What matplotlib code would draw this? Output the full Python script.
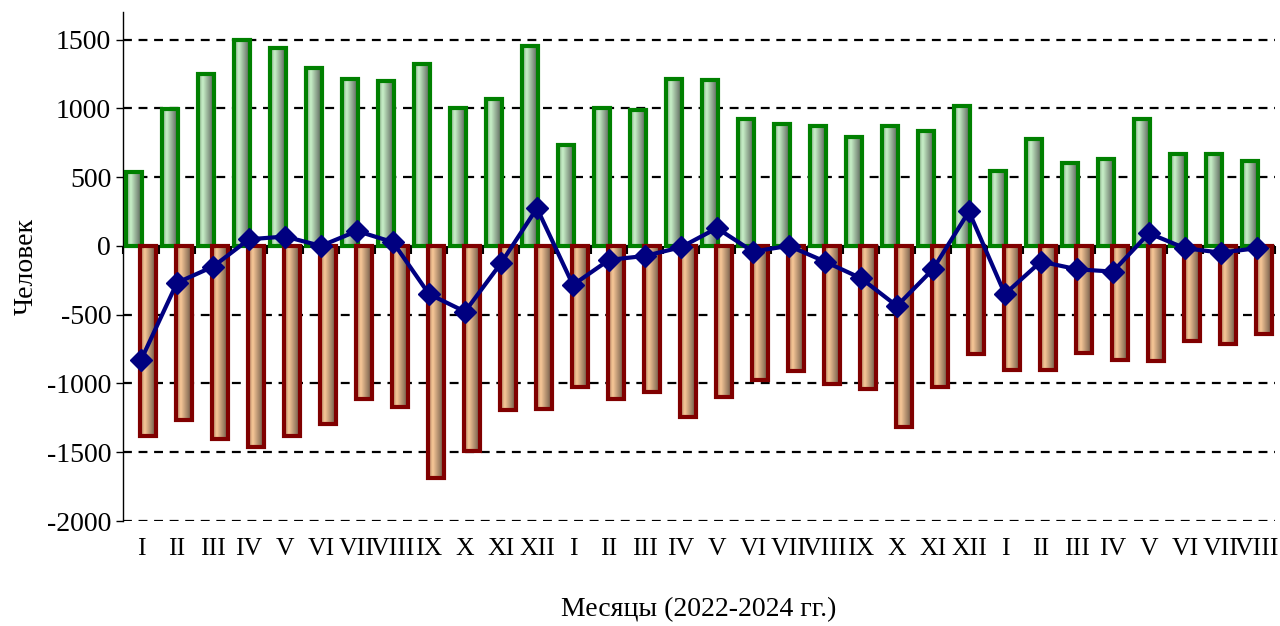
import numpy as np
import matplotlib.pyplot as plt
from matplotlib.colors import LinearSegmentedColormap

plt.rcParams['font.family'] = ['Liberation Serif', 'DejaVu Serif']
plt.rcParams['axes.unicode_minus'] = False

# Data
months = ['I', 'II', 'III', 'IV', 'V', 'VI', 'VII', 'VIII', 'IX', 'X', 'XI', 'XII',
          'I', 'II', 'III', 'IV', 'V', 'VI', 'VII', 'VIII', 'IX', 'X', 'XI', 'XII',
          'I', 'II', 'III', 'IV', 'V', 'VI', 'VII', 'VIII']
arrived = [540, 995, 1250, 1500, 1440, 1290, 1210, 1198, 1325, 1003, 1065, 1450,
           730, 1003, 990, 1215, 1208, 920, 889, 870, 792, 874, 838, 1020,
           542, 778, 602, 628, 920, 668, 668, 614]
departed = [-1385, -1265, -1405, -1465, -1380, -1298, -1110, -1173, -1688, -1490, -1193, -1185,
            -1028, -1115, -1060, -1245, -1095, -975, -908, -1003, -1040,
            -1320, -1027, -785, -900, -900, -780, -830, -835, -695, -715, -640]
net = [-830, -268, -151, 48, 68, 0, 108, 27, -350, -478, -126, 274,
       -284, -102, -73, -10, 129, -41, 0, -114, -235, -437, -170, 250,
       -350, -114, -170, -187, 92, -17, -49, -17]

x = np.arange(len(months))

fig = plt.figure(figsize=(12.8, 6.26), dpi=100)
ax = fig.add_axes([0.0961, 0.1677, 0.8999, 0.8131])

green_cm = LinearSegmentedColormap.from_list('g', [(0, '#88a888'), (0.3, '#c8f0c8'), (1, '#585e58')])
red_cm = LinearSegmentedColormap.from_list('r', [(0, '#a87a5c'), (0.3, '#f8c898'), (1, '#685444')])
grad = np.linspace(0, 1, 64).reshape(1, -1)

w = 0.44
b1 = ax.bar(x - 0.2, arrived, w, facecolor='none', edgecolor='#008000', linewidth=3, zorder=3)
b2 = ax.bar(x + 0.2, departed, w, facecolor='none', edgecolor='#800000', linewidth=3, zorder=3)

for bars, cm in ((b1, green_cm), (b2, red_cm)):
    for r in bars:
        x0, y0 = r.get_x(), r.get_y()
        x1, y1 = x0 + r.get_width(), y0 + r.get_height()
        im = ax.imshow(grad, cmap=cm, extent=[x0, x1, min(y0, y1), max(y0, y1)],
                       aspect='auto', zorder=2.5, interpolation='bilinear')
        im.set_clip_path(r)

ax.plot(x, net, color='#000080', linewidth=3, marker='D', markersize=11, zorder=5)

ax.set_xlim(-0.5, len(months) - 0.5)
ax.set_ylim(-2000, 1700)
ax.set_yticks(np.arange(-2000, 1501, 500))
ax.tick_params(axis='y', labelsize=20, length=5, direction='out', width=1)
ax.grid(axis='y', linestyle=(0, (4, 3)), color='black', linewidth=1.6, zorder=1)

# horizontal axis crosses at zero, labels stay at the bottom
ax.spines['bottom'].set_position(('data', 0))
ax.spines['bottom'].set_visible(False)
ax.spines['top'].set_visible(False)
ax.spines['right'].set_visible(False)
ax.spines['left'].set_linewidth(1)
ax.set_xticks(np.arange(-0.5, len(months), 1))
ax.tick_params(axis='x', length=6, width=1.5, direction='out', labelbottom=False)

sec = ax.secondary_xaxis(0)
sec.set_xticks(x)
sec.set_xticklabels(months)
sec.tick_params(length=0, labelsize=18.5, pad=12)
sec.spines['bottom'].set_visible(False)

ax.set_ylabel('Человек', fontsize=20, labelpad=6)
sec.set_xlabel('Месяцы (2022-2024 гг.)', fontsize=20, labelpad=27)

fig.savefig('out.png', dpi=100)
